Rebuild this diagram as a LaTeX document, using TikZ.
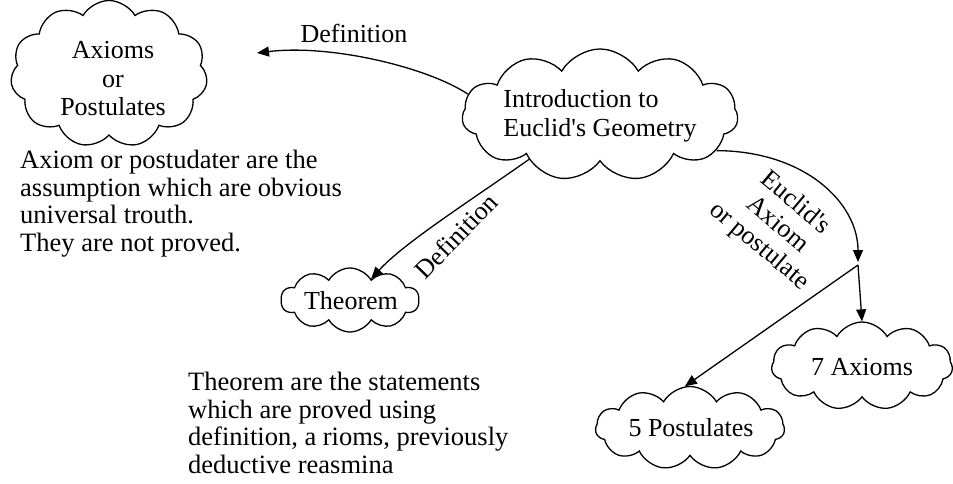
\documentclass[tikz,border=0pt]{standalone}
\usepackage{fontspec}
\setmainfont{Liberation Serif}[Ligatures=TeXOff]
\usetikzlibrary{shapes.symbols, arrows.meta}
\begin{document}
\begin{tikzpicture}[x=1pt,y=-1pt,
  cl/.style={cloud, draw, line width=1.3pt, cloud puffs=11, cloud puff arc=120, inner sep=0pt},
  arr/.style={line width=1.3pt, -{Triangle[length=12pt,width=10pt]}},
  ctext/.style={font=\fontsize{26}{28.5}\selectfont, inner sep=0pt, align=center},
  txt/.style={font=\fontsize{26.5}{27.5}\selectfont, align=left, inner sep=0pt},
  lbl/.style={font=\fontsize{26}{28}\selectfont, inner sep=0pt, align=center}]
\useasboundingbox (0,0) rectangle (953,483);

% clouds
\node[cl, aspect=1.34, minimum width=197pt, minimum height=147pt] (ax) at (109,74) {};
\node[cl, aspect=2.08, minimum width=276pt, minimum height=132pt] (intro) at (600,115) {};
\node[cl, cloud puffs=10, aspect=2.15, minimum width=138pt, minimum height=64pt] (thm) at (350,300) {};
\node[cl, aspect=2.05, minimum width=181pt, minimum height=88pt] (ax7) at (862,366) {};
\node[cl, aspect=2.28, minimum width=189pt, minimum height=83pt] (post5) at (690,428) {};

% cloud texts
\node[ctext] (axt) at (113,79) {Axioms\\or\\Postulates};
\node[ctext, align=left] (introt) at (600,116) {Introduction to\\Euclid's Geometry};
\node[ctext] (thmt) at (351,301) {Theorem};
\node[ctext] (ax7t) at (862,367) {7 Axioms};
\node[ctext] (post5t) at (691,428) {5 Postulates};

\coordinate (d1) at (257,53);
\coordinate (j) at (858,265);

\draw[arr] (intro.171) .. controls (427,67) and (330,44) .. (d1);
\node[lbl] (l1) at (354,33) {Definition};

\draw[arr] (intro.212) .. controls (467,203) and (404,243) .. (thm.45);
\node[lbl, rotate=46] (l2) at (456,236) {Definition};

\draw[arr, shorten >=3pt] (intro.-17) .. controls (805,151) and (858,203) .. (j);
\node[lbl, rotate=-40] (l3) at (777,225) {Euclid's\\Axiom\\or postulate};

\draw[arr] (j) -- (ax7.north);
\draw[arr] (j) -- (post5.97);

\node[txt, anchor=north west] (tax) at (20,150) {Axiom or postudater are the\\assumption which are obvious\\universal trouth.\\They are not proved.};
\node[txt, anchor=north west] (tth) at (188,372) {Theorem are the statements\\which are proved using\\definition, a rioms, previously\\deductive reasmina};
\end{tikzpicture}
\end{document}
